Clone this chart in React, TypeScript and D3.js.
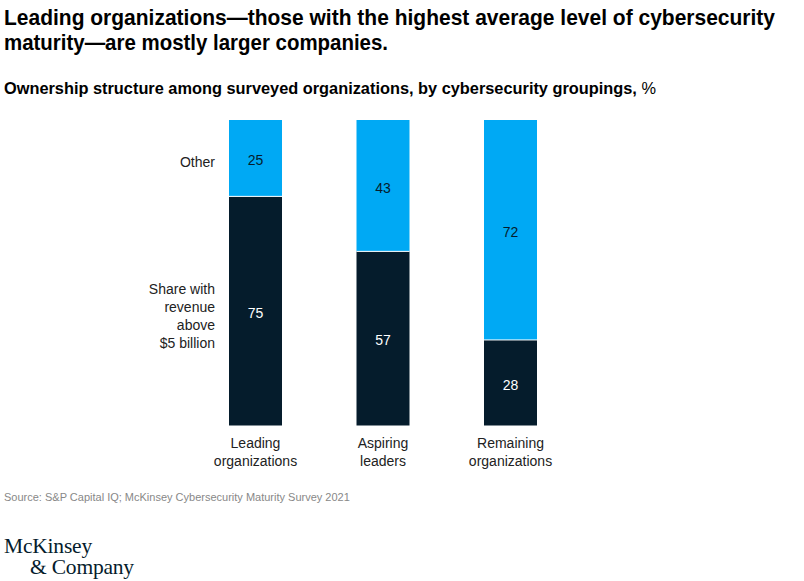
import React from "react";
import * as d3 from "d3";

const categories = [["Leading", "organizations"], ["Aspiring", "leaders"], ["Remaining", "organizations"]];
const categoryKeys = ["Leading organizations", "Aspiring leaders", "Remaining organizations"];
const bigRevenue = [75, 57, 28];
const other = [25, 43, 72];
const seriesLabelOther = ["Other"];
const seriesLabelRevenue = ["Share with", "revenue", "above", "$5 billion"];

const W = 804;
const H = 581;
const DARK = "#051C2C";
const LIGHT = "#00A9F4";
const FONT = "'Liberation Sans', Arial, sans-serif";
const SERIF = "'Liberation Serif', 'Times New Roman', serif";

export default function App() {
  const x = d3.scalePoint<string>().domain(categoryKeys).range([255.5, 510.5]);
  const y = d3.scaleLinear().domain([0, 100]).range([425.5, 120]);
  const bw = 53;
  const xs = categoryKeys.map((k) => (x(k) as number) - bw / 2);

  return (
    <svg width={W} height={H} style={{ position: "absolute", left: 0, top: 0, background: "#fff" }} fontFamily={FONT}>
      <text x={4} y={25} fontSize={21.5} fontWeight={700} fill="#000" textLength={771} lengthAdjust="spacingAndGlyphs">
        Leading organizations—those with the highest average level of cybersecurity
      </text>
      <text x={4} y={50} fontSize={21.5} fontWeight={700} fill="#000" textLength={384} lengthAdjust="spacingAndGlyphs">
        maturity—are mostly larger companies.
      </text>
      <text x={4} y={94} fontSize={16} fontWeight={700} fill="#000" textLength={652} lengthAdjust="spacingAndGlyphs">
        Ownership structure among surveyed organizations, by cybersecurity groupings,{" "}
        <tspan fontWeight={400}>%</tspan>
      </text>

      {categoryKeys.map((k, i) => {
        const x0 = xs[i];
        const yMid = y(bigRevenue[i]);
        return (
          <g key={k}>
            <rect x={x0} y={yMid} width={bw} height={y(0) - yMid} fill={DARK} />
            <rect x={x0} y={y(100)} width={bw} height={yMid - y(100)} fill={LIGHT} />
            <line x1={x0} x2={x0 + bw} y1={yMid} y2={yMid} stroke="#fff" strokeWidth={1} />
            <text x={x0 + bw / 2} y={(yMid + y(0)) / 2 + 7} textAnchor="middle" fontSize={14} fill="#fff">
              {bigRevenue[i]}
            </text>
            <text x={x0 + bw / 2} y={(yMid + y(100)) / 2 + 7} textAnchor="middle" fontSize={14} fill={DARK}>
              {other[i]}
            </text>
            {categories[i].map((line, j) => (
              <text key={j} x={x0 + bw / 2} y={448 + j * 18} textAnchor="middle" fontSize={14} fill="#222">
                {line}
              </text>
            ))}
          </g>
        );
      })}

      {seriesLabelOther.map((t, j) => (
        <text key={t} x={215} y={(y(100) + y(bigRevenue[0])) / 2 + 9 + j * 18} textAnchor="end" fontSize={14} fill="#222">
          {t}
        </text>
      ))}
      {seriesLabelRevenue.map((t, j) => (
        <text key={t} x={215} y={(y(0) + y(bigRevenue[0])) / 2 + 10 - 27 + j * 18} textAnchor="end" fontSize={14} fill="#222">
          {t}
        </text>
      ))}

      <text x={4} y={501} fontSize={11} fill="#888">
        Source: S&amp;P Capital IQ; McKinsey Cybersecurity Maturity Survey 2021
      </text>

      <text x={4} y={553} fontSize={21.5} fill={DARK} fontFamily={SERIF} letterSpacing={-0.2}>
        McKinsey
      </text>
      <text x={30} y={574} fontSize={21.5} fill={DARK} fontFamily={SERIF} letterSpacing={-0.2}>
        &amp; Company
      </text>
    </svg>
  );
}
